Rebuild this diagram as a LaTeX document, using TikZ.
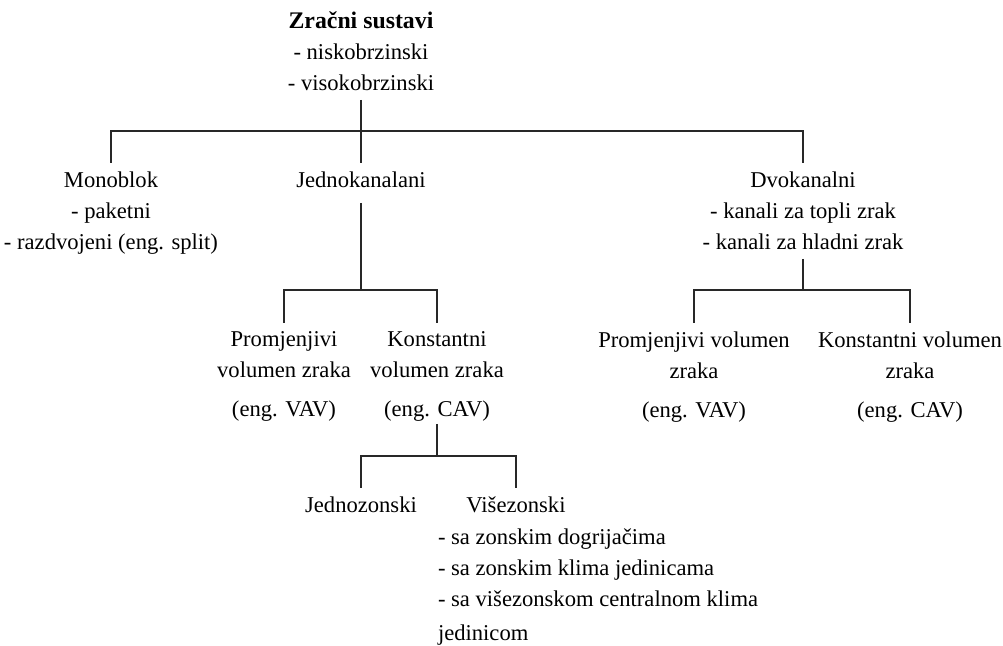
\documentclass[tikz,border=0pt]{standalone}
\usepackage{fontspec}
\setmainfont{Liberation Serif}
\usetikzlibrary{positioning,calc}
\definecolor{linecolor}{RGB}{40,40,40}

\begin{document}
\begin{tikzpicture}[
    x=0.5pt, y=-0.5pt,
    every node/.style={font=\fontsize{11.3}{15.5}\selectfont},
    box/.style={inner sep=0pt, outer xsep=0pt, outer ysep=4.5pt, align=center, anchor=north},
    list/.style={inner sep=0pt, outer sep=0pt, align=left, anchor=north west},
    tree/.style={draw=linecolor, line width=1pt}
]
\useasboundingbox (0,0) rectangle (1003,646);

% Root
\node[box] (root) at (361,3) {{\fontsize{11.9}{15.5}\selectfont\bfseries Zračni sustavi}\\- niskobrzinski\\- visokobrzinski};

% First level
\node[box] (mono) at (111,163) {Monoblok\\- paketni\\- razdvojeni (eng. split)};
\node[box] (jedno) at (361,163) {Jednokanalani};
\node[box] (dvo) at (803,163) {Dvokanalni\\- kanali za topli zrak\\- kanali za hladni zrak};

% Second level
\node[box] (pvl) at (284,323) {Promjenjivi\\volumen zraka\\[4pt](eng. VAV)};
\node[box] (kvl) at (437,323) {Konstantni\\volumen zraka\\[4pt](eng. CAV)};
\node[box] (pvd) at (694,323) {Promjenjivi volumen\\zraka\\[4pt](eng. VAV)};
\node[box] (kvd) at (910,323) {Konstantni volumen\\zraka\\[4pt](eng. CAV)};

% Third level
\node[box] (jz) at (361,488) {Jednozonski};
\node[box] (vz) at (516,488) {Višezonski};
\node[list] (vzlist) at (438,529) {- sa zonskim dogrijačima\\- sa zonskim klima jedinicama\\- sa višezonskom centralnom klima\\[1.5pt]jedinicom};

% Connectors
\draw[tree] (root.south) -- ++(0,31) coordinate (bar1);
\draw[tree] (mono.north) |- (bar1) -| (dvo.north);
\draw[tree] (bar1) -- (jedno.north);

% Jednokanalni branch
\draw[tree] (pvl.north) -- ++(0,-33) coordinate (bar2) -| (kvl.north);
\draw[tree] ([yshift=-3pt]jedno.south) -- (jedno.south |- bar2);

% Dvokanalni branch
\draw[tree] (pvd.north) -- ++(0,-33) coordinate (bar3) -| (kvd.north);
\draw[tree] (dvo.south) -- (dvo.south |- bar3);

% Zone branch
\draw[tree] (jz.north) -- ++(0,-32) coordinate (bar4) -| (vz.north);
\draw[tree] ([yshift=3.5pt]kvl.south) -- (kvl.south |- bar4);

\end{tikzpicture}
\end{document}
